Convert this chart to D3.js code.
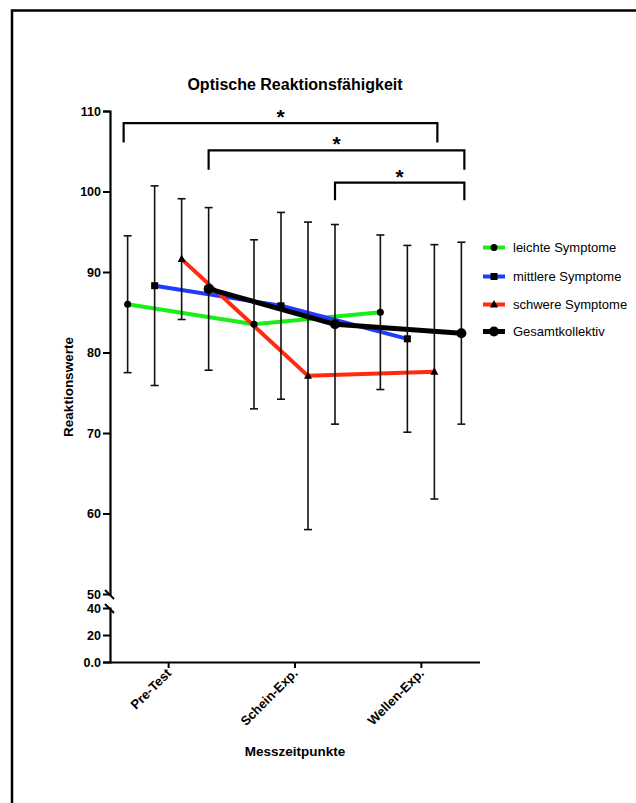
<!DOCTYPE html>
<html>
<head>
<meta charset="utf-8">
<script src="https://cdn.jsdelivr.net/npm/d3@7"></script>
<style>
  html, body { margin: 0; padding: 0; background: #fff; }
  svg { display: block; font-family: "Liberation Sans", Arial, sans-serif; }
</style>
</head>
<body>
<svg id="chart" width="636" height="803"></svg>
<script>
// ---- data ----
const categories = ["Pre-Test", "Schein-Exp.", "Wellen-Exp."];
const seriesNames = ["leichte Symptome", "mittlere Symptome", "schwere Symptome", "Gesamtkollektiv"];
const meanLeicht   = [86.0, 83.5, 85.0];
const sdLeicht     = [8.5, 10.5, 9.6];
const meanMittlere = [88.3, 85.8, 81.7];
const sdMittlere   = [12.4, 11.6, 11.6];
const meanSchwere  = [91.6, 77.1, 77.6];
const sdSchwere    = [7.5, 19.1, 15.8];
const meanGesamt   = [87.9, 83.5, 82.4];
const sdGesamt     = [10.1, 12.4, 11.3];
const upperTicks = [50, 60, 70, 80, 90, 100, 110];
const lowerTicks = [0, 20, 40];
// significance brackets: [from category, from series, to category, to series, top value, leg value]
const brackets = [
  ["Pre-Test", 0, "Wellen-Exp.", 2, 108.5, 106.1],
  ["Pre-Test", 3, "Wellen-Exp.", 3, 105.1, 102.7],
  ["Schein-Exp.", 3, "Wellen-Exp.", 3, 101.1, 98.9]
];
const colors = ["#19ee19", "#1e3cff", "#ff2a10", "#000000"];
const markers = ["circle", "square", "triangle", "bigcircle"];

const series = [
  { name: seriesNames[0], mean: meanLeicht, sd: sdLeicht },
  { name: seriesNames[1], mean: meanMittlere, sd: sdMittlere },
  { name: seriesNames[2], mean: meanSchwere, sd: sdSchwere },
  { name: seriesNames[3], mean: meanGesamt, sd: sdGesamt }
];

const svg = d3.select("#chart");

// frame
svg.append("rect").attr("x", 12).attr("y", 10.5).attr("width", 800).attr("height", 900)
  .attr("fill", "none").attr("stroke", "#000").attr("stroke-width", 2.5);

// scales
const x = d3.scalePoint().domain(categories).range([110, 479]).padding(0.46);
const dodge = 27;
const xs = (cat, k) => x(cat) + (k - 1.5) * dodge;
const yTop = d3.scaleLinear().domain([50, 110]).range([594, 111]);
const yBot = d3.scaleLinear().domain([0, 40]).range([662, 608]);

const axisX = 110;

// y axis upper / lower
const gYT = svg.append("g").attr("transform", `translate(${axisX},0)`)
  .call(d3.axisLeft(yTop).tickValues(upperTicks).tickSizeOuter(0).tickSize(7).tickPadding(2).tickFormat(d3.format("d")));
const gYB = svg.append("g").attr("transform", `translate(${axisX},0)`)
  .call(d3.axisLeft(yBot).tickValues(lowerTicks).tickSizeOuter(0).tickSize(7).tickPadding(2)
    .tickFormat(d => d === 0 ? "0.0" : d3.format("d")(d)));
[gYT, gYB].forEach(g => {
  g.attr("font-size", null).attr("font-family", null);
  g.select(".domain").attr("stroke-width", 2.2);
  g.selectAll(".tick line").attr("stroke-width", 2);
  g.selectAll(".tick text").style("font-size", "12.5px").style("font-weight", "bold")
    .style("font-family", "'Liberation Sans', Arial, sans-serif").attr("fill", "#000");
});
gYT.selectAll(".tick").filter(d => d === 50).select("line").remove();
gYB.selectAll(".tick").filter(d => d === 40).select("line").remove();
// break marks
[yTop(50), yBot(40)].forEach(yy => {
  svg.append("line").attr("x1", axisX - 5).attr("y1", yy - 4).attr("x2", axisX + 4).attr("y2", yy + 5)
    .attr("stroke", "#000").attr("stroke-width", 2);
});

// x axis
const gX = svg.append("g").attr("transform", `translate(0,${yBot(0)})`)
  .call(d3.axisBottom(x).tickSizeOuter(0).tickSize(6).tickFormat(""));
gX.select(".domain").attr("d", `M${axisX},0.5H480`).attr("stroke-width", 2.2);
gX.selectAll(".tick line").attr("stroke-width", 2);
categories.forEach(c => {
  svg.append("text").attr("transform", `translate(${x(c) + 4},${yBot(0) + 12}) rotate(-45)`)
    .attr("text-anchor", "end").style("font-size", "13px").style("font-weight", "bold").text(c);
});

// lines
const line = d3.line().x(d => d[0]).y(d => yTop(d[1]));
series.forEach((s, k) => {
  const pts = categories.map((c, i) => [xs(c, k), s.mean[i]]);
  svg.append("path").attr("d", line(pts)).attr("fill", "none")
    .attr("stroke", colors[k]).attr("stroke-width", k === 3 ? 5 : 4).attr("stroke-linejoin", "round");
});

// error bars
series.forEach((s, k) => {
  categories.forEach((c, i) => {
    const cx = xs(c, k);
    const y1 = yTop(s.mean[i] + s.sd[i]);
    const y2 = yTop(s.mean[i] - s.sd[i]);
    const g = svg.append("g").attr("stroke", "#111").attr("stroke-width", 1.6);
    g.append("line").attr("x1", cx).attr("x2", cx).attr("y1", y1).attr("y2", y2);
    g.append("line").attr("x1", cx - 4).attr("x2", cx + 4).attr("y1", y1).attr("y2", y1);
    g.append("line").attr("x1", cx - 4).attr("x2", cx + 4).attr("y1", y2).attr("y2", y2);
  });
});

// markers
function drawMarker(g, type, cx, cy) {
  if (type === "circle") g.append("circle").attr("cx", cx).attr("cy", cy).attr("r", 3.5).attr("fill", "#000");
  else if (type === "bigcircle") g.append("circle").attr("cx", cx).attr("cy", cy).attr("r", 5).attr("fill", "#000");
  else if (type === "square") g.append("rect").attr("x", cx - 3.5).attr("y", cy - 3.5).attr("width", 7).attr("height", 7).attr("fill", "#000");
  else if (type === "triangle") g.append("path").attr("d", `M${cx},${cy - 4.5}L${cx + 4},${cy + 3}L${cx - 4},${cy + 3}Z`).attr("fill", "#000");
}
series.forEach((s, k) => {
  categories.forEach((c, i) => drawMarker(svg, markers[k], xs(c, k), yTop(s.mean[i])));
});

// significance brackets
brackets.forEach((b, j) => {
  const xa = xs(b[0], b[1]) - (j === 0 ? 4 : 0), xb = xs(b[2], b[3]) + 3;
  const yt = yTop(b[4]), yl = yTop(b[5]);
  svg.append("path").attr("d", `M${xa},${yl}V${yt}H${xb}V${yl}`)
    .attr("fill", "none").attr("stroke", "#000").attr("stroke-width", 2.2);
  svg.append("text").attr("x", (xa + xb) / 2).attr("y", yt + 1).attr("text-anchor", "middle")
    .style("font-size", "21px").style("font-weight", "bold").text("*");
});

// title and axis labels
svg.append("text").attr("x", 295).attr("y", 90).attr("text-anchor", "middle")
  .style("font-size", "16px").style("font-weight", "bold").text("Optische Reaktionsfähigkeit");
svg.append("text").attr("x", 295).attr("y", 756).attr("text-anchor", "middle")
  .style("font-size", "13.5px").style("font-weight", "bold").text("Messzeitpunkte");
svg.append("text").attr("transform", "translate(73,387) rotate(-90)").attr("text-anchor", "middle")
  .style("font-size", "13.5px").style("font-weight", "bold").text("Reaktionswerte");

// legend
const legendY = [247.5, 276.5, 304.5, 331.5];
series.forEach((s, k) => {
  const ly = legendY[k];
  svg.append("line").attr("x1", 483).attr("x2", 505).attr("y1", ly).attr("y2", ly)
    .attr("stroke", colors[k]).attr("stroke-width", k === 3 ? 5 : 4);
  drawMarker(svg, markers[k], 494, ly);
  svg.append("text").attr("x", 513).attr("y", ly).attr("dy", "0.35em")
    .style("font-size", "13px").text(s.name);
});
</script>
</body>
</html>
